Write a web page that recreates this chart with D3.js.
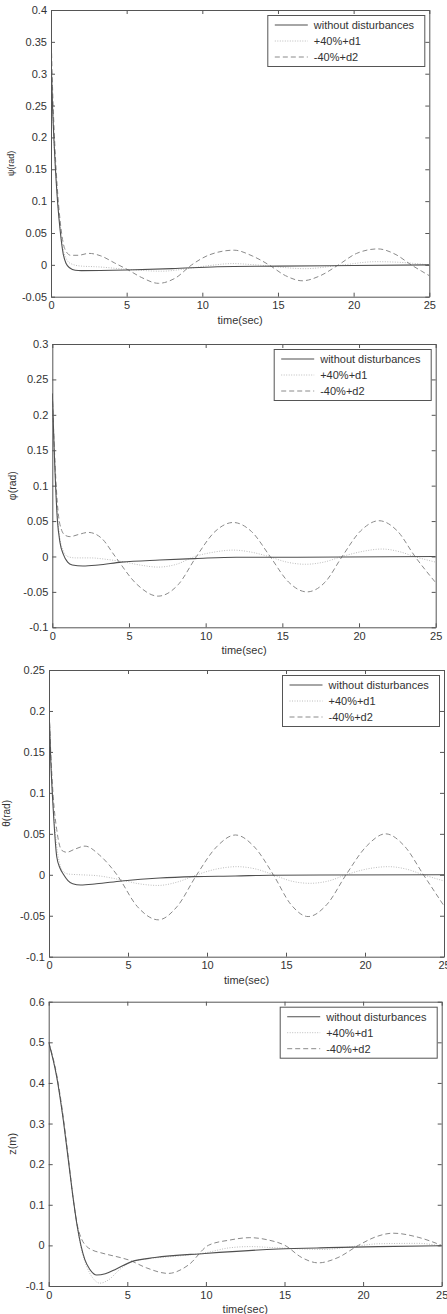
<!DOCTYPE html>
<html>
<head>
<meta charset="utf-8">
<script src="https://cdn.jsdelivr.net/npm/d3@7"></script>
<style>
  html, body { margin: 0; padding: 0; background: #fff; }
  svg { display: block; font-family: "Liberation Sans", Arial, sans-serif; }
</style>
</head>
<body>
<div id="chart"></div>
<script>
// time responses: [t (sec), value]
const timeTicks = [0, 5, 10, 15, 20, 25];
const legendLabels = ['without disturbances', '+40%+d1', '-40%+d2'];

// psi (rad)
const psiTicks = [-0.05, 0, 0.05, 0.1, 0.15, 0.2, 0.25, 0.3, 0.35, 0.4];
const psiNominal = [[0,0.33],[0.1,0.25],[0.25,0.17],[0.45,0.094],[0.6,0.055],[0.8,0.018],[1.0,0.002],[1.25,-0.005],[1.6,-0.0085],[2,-0.009],[5,-0.008],[8,-0.006],[11,-0.003],[15,-0.002],[20,-0.001],[25,0]];
const psiD1 = [[0,0.33],[0.1,0.25],[0.25,0.17],[0.45,0.1],[0.6,0.06],[0.8,0.025],[1.0,0.01],[1.3,0.002],[2,-0.002],[3,-0.003],[5,-0.007],[7.3,-0.01],[9,-0.006],[10.5,-0.001],[12,0.002],[13.5,0.0],[16.8,-0.006],[19,-0.001],[21.5,0.005],[23,0.004],[25,0]];
const psiD2 = [[0,0.37],[0.1,0.28],[0.25,0.19],[0.45,0.11],[0.6,0.07],[0.8,0.035],[1.0,0.021],[1.3,0.015],[1.8,0.015],[2.5,0.018],[3.3,0.014],[4.2,0.003],[5.1,-0.008],[6,-0.02],[7.1,-0.029],[8.2,-0.021],[9.3,0],[10.5,0.016],[12.1,0.023],[13.3,0.014],[14.4,0],[15.5,-0.017],[16.6,-0.025],[17.8,-0.017],[19,0],[20.2,0.018],[21.6,0.025],[22.8,0.016],[23.8,0],[24.5,-0.01],[25,-0.017]];

// phi (rad)
const phiTicks = [-0.1, -0.05, 0, 0.05, 0.1, 0.15, 0.2, 0.25, 0.3];
const phiNominal = [[0,0.23],[0.13,0.146],[0.33,0.052],[0.5,0.02],[0.72,0.003],[1.0,-0.008],[1.3,-0.012],[2,-0.0135],[3,-0.012],[4.5,-0.008],[7,-0.005],[9.3,-0.003],[12,-0.001],[16,-0.001],[25,0]];
const phiD1 = [[0,0.23],[0.13,0.15],[0.33,0.06],[0.5,0.025],[0.72,0.008],[1.0,0.0],[1.5,-0.002],[2.5,-0.002],[3.5,-0.004],[4.5,-0.007],[5.7,-0.012],[6.9,-0.015],[8.1,-0.011],[9.3,0],[10.5,0.006],[11.8,0.009],[13,0.006],[14.1,0],[15.3,-0.008],[16.5,-0.011],[17.7,-0.008],[18.9,0],[20.2,0.007],[21.5,0.0105],[22.6,0.007],[23.6,0],[25,-0.008]];
const phiD2 = [[0,0.23],[0.13,0.155],[0.33,0.075],[0.5,0.045],[0.83,0.030],[1.15,0.028],[1.7,0.031],[2.35,0.034],[3.2,0.026],[4.1,0.0],[5.5,-0.039],[6.9,-0.056],[8.2,-0.04],[9.4,0],[10.6,0.035],[11.8,0.048],[13,0.035],[14.2,0],[15.4,-0.036],[16.6,-0.05],[17.8,-0.036],[18.9,0],[20.1,0.036],[21.3,0.0505],[22.5,0.036],[23.65,0],[25,-0.037]];

// theta (rad)
const thetaTicks = [-0.1, -0.05, 0, 0.05, 0.1, 0.15, 0.2, 0.25];
const thetaNominal = [[0,0.205],[0.11,0.14],[0.27,0.079],[0.49,0.022],[0.7,0.008],[0.9,0.001],[1.2,-0.007],[1.5,-0.011],[2,-0.0125],[3,-0.011],[4.6,-0.0076],[7,-0.004],[9.2,-0.0023],[11.8,-0.0015],[14,-0.0005],[25,0]];
const thetaD1 = [[0,0.205],[0.11,0.145],[0.27,0.085],[0.49,0.035],[0.7,0.012],[0.9,0.004],[1.2,0.001],[2,0.0],[3,-0.001],[4.5,-0.006],[5.7,-0.011],[6.9,-0.013],[8.1,-0.009],[9.35,0],[10.6,0.007],[11.9,0.0099],[13.1,0.007],[14.2,0],[15.3,-0.0075],[16.5,-0.0104],[17.7,-0.0075],[18.8,0],[20.1,0.007],[21.5,0.0099],[22.6,0.007],[23.7,0],[25,-0.0076]];
const thetaD2 = [[0,0.205],[0.11,0.15],[0.27,0.095],[0.49,0.055],[0.8,0.030],[1.12,0.0275],[1.6,0.031],[2.28,0.035],[3.2,0.024],[4.3,0],[5.6,-0.039],[6.92,-0.055],[8.1,-0.039],[9.35,0],[10.6,0.034],[11.8,0.0486],[13,0.034],[14.2,0],[15.3,-0.036],[16.4,-0.051],[17.6,-0.036],[18.8,0],[20.1,0.035],[21.3,0.050],[22.5,0.035],[23.7,0],[25,-0.038]];

// z (m)
const zTicks = [-0.1, 0, 0.1, 0.2, 0.3, 0.4, 0.5, 0.6];
const zNominal = [[0,0.5],[0.51,0.415],[0.93,0.308],[1.25,0.21],[1.57,0.112],[1.82,0.046],[2.05,0.0],[2.3,-0.035],[2.6,-0.058],[3.05,-0.073],[3.6,-0.07],[4.3,-0.058],[5.28,-0.04],[6.76,-0.03],[9.94,-0.02],[14.6,-0.009],[17.8,-0.0056],[21,-0.003],[25,-0.001]];
const zD1 = [[0,0.5],[0.51,0.415],[0.93,0.31],[1.25,0.215],[1.57,0.115],[1.82,0.046],[2.05,-0.005],[2.4,-0.05],[2.8,-0.08],[3.26,-0.093],[3.8,-0.085],[4.5,-0.06],[5.3,-0.04],[6.5,-0.032],[8,-0.027],[10,-0.018],[11.5,-0.006],[12.8,-0.003],[14.5,-0.006],[17.5,-0.01],[19.5,-0.002],[21,0.004],[23.5,0.005],[25,-0.002]];
const zD2 = [[0,0.5],[0.51,0.42],[0.93,0.315],[1.25,0.215],[1.57,0.11],[1.82,0.05],[2.1,0.015],[2.4,-0.002],[2.8,-0.012],[3.3,-0.018],[4.75,-0.032],[5.1,-0.036],[6.2,-0.055],[7.6,-0.069],[8.9,-0.048],[10.15,0],[11.5,0.013],[12.8,0.019],[14,0.013],[15.03,0],[16.1,-0.03],[17.15,-0.043],[18.4,-0.03],[19.7,0],[20.8,0.021],[21.9,0.030],[23.5,0.02],[25,0]];

// layout of each panel (page pixels)
const W = 447, H = 1314;
const panels = [
  { label: 'ψ(rad)', labelSize: 9,  labelX: 11, labelDy: 10, box: { l: 51,   r: 429.3, t: 10,     b: 296.7 }, ticks: psiTicks,   series: [psiNominal, psiD1, psiD2] },
  { label: 'φ(rad)', labelSize: 10.5, labelX: 12, labelDy: 0, box: { l: 52.3, r: 435.7, t: 344,    b: 627.3 }, ticks: phiTicks,   series: [phiNominal, phiD1, phiD2] },
  { label: 'θ(rad)', labelSize: 10, labelX: 6.5, labelDy: 0, box: { l: 49,   r: 444,   t: 670,    b: 956.7 }, ticks: thetaTicks, series: [thetaNominal, thetaD1, thetaD2] },
  { label: 'z(m)',   labelSize: 11, labelX: 12, labelDy: 0,  box: { l: 48.7, r: 441.7, t: 1001.7, b: 1286 },  ticks: zTicks,     series: [zNominal, zD1, zD2] }
];

const styles = [
  { stroke: '#4f4f4f', dash: null,    width: 1.1 },
  { stroke: '#bcbcbc', dash: '1,1.5', width: 1 },
  { stroke: '#8a8a8a', dash: '5,3',   width: 1 }
];

const AXIS = '#555';
const TEXT = '#333';

const svg = d3.select('#chart').append('svg')
  .attr('width', W)
  .attr('height', H);

const fmt = d => String(d);

panels.forEach((p, i) => {
  const { l, r, t, b } = p.box;
  const x = d3.scaleLinear().domain([0, 25]).range([l, r]);
  const y = d3.scaleLinear().domain(d3.extent(p.ticks)).range([b, t]);

  svg.append('clipPath').attr('id', `clip${i}`)
    .append('rect').attr('x', l).attr('y', t).attr('width', r - l).attr('height', b - t);

  // lines
  const line = d3.line()
    .x(d => x(d[0]))
    .y(d => y(d[1]))
    .curve(d3.curveMonotoneX);

  const g = svg.append('g').attr('clip-path', `url(#clip${i})`);
  // draw dotted first, then dashed, then solid on top
  [1, 2, 0].forEach(k => {
    g.append('path')
      .datum(p.series[k])
      .attr('d', line)
      .attr('fill', 'none')
      .attr('stroke', styles[k].stroke)
      .attr('stroke-width', styles[k].width)
      .attr('stroke-dasharray', styles[k].dash);
  });

  // axes, MATLAB box style with inward ticks on every side
  const bottom = svg.append('g').attr('transform', `translate(0,${b})`)
    .call(d3.axisBottom(x).tickValues(timeTicks).tickFormat(fmt).tickSizeInner(-4).tickSizeOuter(0).tickPadding(5));
  const left = svg.append('g').attr('transform', `translate(${l},0)`)
    .call(d3.axisLeft(y).tickValues(p.ticks).tickFormat(fmt).tickSizeInner(-4).tickSizeOuter(0).tickPadding(4));
  const top = svg.append('g').attr('transform', `translate(0,${t})`)
    .call(d3.axisTop(x).tickValues(timeTicks).tickFormat('').tickSizeInner(-4).tickSizeOuter(0));
  const right = svg.append('g').attr('transform', `translate(${r},0)`)
    .call(d3.axisRight(y).tickValues(p.ticks).tickFormat('').tickSizeInner(-4).tickSizeOuter(0));

  [bottom, left, top, right].forEach(a => {
    a.select('.domain').attr('stroke', AXIS).attr('stroke-width', 1);
    a.selectAll('.tick line').attr('stroke', AXIS);
    a.selectAll('.tick text').attr('fill', TEXT).style('font-size', '11px')
      .style('font-family', '"Liberation Sans", Arial, sans-serif');
  });

  // axis titles
  svg.append('text')
    .attr('x', (l + r) / 2)
    .attr('y', b + 27)
    .attr('text-anchor', 'middle')
    .attr('fill', TEXT)
    .style('font-size', '11px')
    .text('time(sec)');

  svg.append('text')
    .attr('transform', `translate(${p.labelX},${(t + b) / 2 + p.labelDy}) rotate(-90)`)
    .attr('text-anchor', 'middle')
    .attr('dy', '0.35em')
    .attr('fill', TEXT)
    .style('font-size', p.labelSize + 'px')
    .text(p.label);

  // legend
  const lw = 157, lh = 51;
  const lx = r - 4.5 - lw, ly = t + 5.5;
  const lg = svg.append('g').attr('transform', `translate(${lx},${ly})`);
  lg.append('rect')
    .attr('width', lw).attr('height', lh)
    .attr('fill', '#fff')
    .attr('stroke', AXIS).attr('stroke-width', 1);
  legendLabels.forEach((name, k) => {
    const ry = 9.5 + k * 16;
    lg.append('line')
      .attr('x1', 7).attr('x2', 40).attr('y1', ry).attr('y2', ry)
      .attr('stroke', styles[k].stroke)
      .attr('stroke-width', styles[k].width)
      .attr('stroke-dasharray', styles[k].dash);
    lg.append('text')
      .attr('x', 46).attr('y', ry)
      .attr('dy', '0.35em')
      .attr('fill', TEXT)
      .style('font-size', '11px')
      .text(name);
  });
});
</script>
</body>
</html>
